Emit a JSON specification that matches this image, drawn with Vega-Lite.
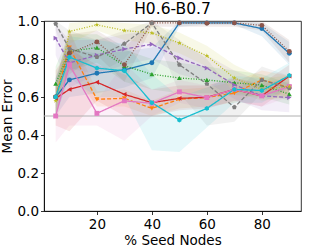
{
  "$schema": "https://vega.github.io/schema/vega-lite/v6.json",
  "width": 257,
  "height": 190,
  "autosize": "none",
  "padding": {"left": 44, "top": 21, "right": 8, "bottom": 38},
  "config": {
    "font": "DejaVu Sans",
    "view": {"stroke": "black", "strokeWidth": 0.8},
    "axis": {"grid": false, "labelOverlap": false, "domainColor": "black", "domainWidth": 0.8, "tickColor": "black", "tickWidth": 0.8, "tickSize": 3.5, "labelFont": "DejaVu Sans", "labelFontSize": 13.5, "labelColor": "black", "titleFont": "DejaVu Sans", "titleFontSize": 13.5, "titleFontWeight": "normal", "titleColor": "black"},
    "title": {"font": "DejaVu Sans", "fontSize": 15.5, "fontWeight": "normal", "color": "black", "offset": 4}
  },
  "title": {"text": "H0.6-B0.7", "dy": 7},
  "datasets": {
    "d": [
      {"s":"m1","x":5,"m":0.60,"lo":0.50,"hi":0.70},{"s":"m1","x":10,"m":0.69,"lo":0.60,"hi":0.85},{"s":"m1","x":20,"m":0.725,"lo":0.62,"hi":0.83},{"s":"m1","x":30,"m":0.743,"lo":0.65,"hi":0.84},{"s":"m1","x":40,"m":0.78,"lo":0.70,"hi":0.86},{"s":"m1","x":50,"m":0.99,"lo":0.97,"hi":1.0},{"s":"m1","x":60,"m":0.99,"lo":0.98,"hi":1.0},{"s":"m1","x":70,"m":0.99,"lo":0.98,"hi":1.0},{"s":"m1","x":80,"m":0.96,"lo":0.92,"hi":0.99},{"s":"m1","x":90,"m":0.83,"lo":0.77,"hi":0.89},
      {"s":"m2","x":5,"m":0.60,"lo":0.52,"hi":0.68},{"s":"m2","x":10,"m":0.86,"lo":0.75,"hi":0.95},{"s":"m2","x":20,"m":0.588,"lo":0.55,"hi":0.63},{"s":"m2","x":30,"m":0.593,"lo":0.55,"hi":0.64},{"s":"m2","x":40,"m":0.54,"lo":0.50,"hi":0.58},{"s":"m2","x":50,"m":0.588,"lo":0.54,"hi":0.64},{"s":"m2","x":60,"m":0.598,"lo":0.55,"hi":0.65},{"s":"m2","x":70,"m":0.62,"lo":0.57,"hi":0.68},{"s":"m2","x":80,"m":0.69,"lo":0.63,"hi":0.74},{"s":"m2","x":90,"m":0.65,"lo":0.60,"hi":0.71},
      {"s":"m3","x":5,"m":0.67,"lo":0.58,"hi":0.76},{"s":"m3","x":10,"m":0.84,"lo":0.74,"hi":0.93},{"s":"m3","x":20,"m":0.86,"lo":0.78,"hi":0.93},{"s":"m3","x":30,"m":0.764,"lo":0.68,"hi":0.85},{"s":"m3","x":40,"m":0.72,"lo":0.64,"hi":0.80},{"s":"m3","x":50,"m":0.70,"lo":0.62,"hi":0.78},{"s":"m3","x":60,"m":0.69,"lo":0.62,"hi":0.76},{"s":"m3","x":70,"m":0.675,"lo":0.61,"hi":0.74},{"s":"m3","x":80,"m":0.663,"lo":0.60,"hi":0.72},{"s":"m3","x":90,"m":0.615,"lo":0.56,"hi":0.67},
      {"s":"m4","x":5,"m":0.593,"lo":0.45,"hi":0.74},{"s":"m4","x":10,"m":0.64,"lo":0.42,"hi":0.85},{"s":"m4","x":20,"m":0.678,"lo":0.58,"hi":0.77},{"s":"m4","x":30,"m":0.614,"lo":0.50,"hi":0.72},{"s":"m4","x":40,"m":0.57,"lo":0.50,"hi":0.64},{"s":"m4","x":50,"m":0.593,"lo":0.53,"hi":0.66},{"s":"m4","x":60,"m":0.598,"lo":0.54,"hi":0.66},{"s":"m4","x":70,"m":0.64,"lo":0.58,"hi":0.70},{"s":"m4","x":80,"m":0.606,"lo":0.55,"hi":0.67},{"s":"m4","x":90,"m":0.71,"lo":0.65,"hi":0.77},
      {"s":"m5","x":5,"m":0.91,"lo":0.82,"hi":0.98},{"s":"m5","x":10,"m":0.78,"lo":0.65,"hi":0.90},{"s":"m5","x":20,"m":0.82,"lo":0.72,"hi":0.90},{"s":"m5","x":30,"m":0.852,"lo":0.77,"hi":0.93},{"s":"m5","x":40,"m":0.878,"lo":0.80,"hi":0.95},{"s":"m5","x":50,"m":0.805,"lo":0.72,"hi":0.88},{"s":"m5","x":60,"m":0.752,"lo":0.68,"hi":0.82},{"s":"m5","x":70,"m":0.664,"lo":0.59,"hi":0.74},{"s":"m5","x":80,"m":0.606,"lo":0.53,"hi":0.68},{"s":"m5","x":90,"m":0.597,"lo":0.52,"hi":0.68},
      {"s":"m6","x":5,"m":0.60,"lo":0.50,"hi":0.70},{"s":"m6","x":10,"m":0.83,"lo":0.72,"hi":0.93},{"s":"m6","x":20,"m":0.89,"lo":0.82,"hi":0.95},{"s":"m6","x":30,"m":0.77,"lo":0.68,"hi":0.86},{"s":"m6","x":40,"m":0.99,"lo":0.97,"hi":1.0},{"s":"m6","x":50,"m":0.99,"lo":0.97,"hi":1.0},{"s":"m6","x":60,"m":0.988,"lo":0.97,"hi":1.0},{"s":"m6","x":70,"m":0.99,"lo":0.97,"hi":1.0},{"s":"m6","x":80,"m":0.977,"lo":0.95,"hi":1.0},{"s":"m6","x":90,"m":0.84,"lo":0.78,"hi":0.90},
      {"s":"m7","x":5,"m":0.50,"lo":0.36,"hi":0.64},{"s":"m7","x":10,"m":0.77,"lo":0.45,"hi":0.95},{"s":"m7","x":20,"m":0.514,"lo":0.45,"hi":0.58},{"s":"m7","x":30,"m":0.58,"lo":0.37,"hi":0.78},{"s":"m7","x":40,"m":0.567,"lo":0.50,"hi":0.64},{"s":"m7","x":50,"m":0.627,"lo":0.57,"hi":0.69},{"s":"m7","x":60,"m":0.597,"lo":0.54,"hi":0.66},{"s":"m7","x":70,"m":0.64,"lo":0.58,"hi":0.70},{"s":"m7","x":80,"m":0.606,"lo":0.55,"hi":0.66},{"s":"m7","x":90,"m":0.655,"lo":0.60,"hi":0.71},
      {"s":"m8","x":5,"m":0.985,"lo":0.95,"hi":1.0},{"s":"m8","x":10,"m":0.854,"lo":0.75,"hi":0.95},{"s":"m8","x":20,"m":0.81,"lo":0.72,"hi":0.90},{"s":"m8","x":30,"m":0.88,"lo":0.80,"hi":0.95},{"s":"m8","x":40,"m":0.99,"lo":0.97,"hi":1.0},{"s":"m8","x":50,"m":0.77,"lo":0.62,"hi":0.90},{"s":"m8","x":60,"m":0.669,"lo":0.45,"hi":0.80},{"s":"m8","x":70,"m":0.546,"lo":0.47,"hi":0.62},{"s":"m8","x":80,"m":0.69,"lo":0.62,"hi":0.76},{"s":"m8","x":90,"m":0.646,"lo":0.58,"hi":0.71},
      {"s":"m9","x":5,"m":0.58,"lo":0.50,"hi":0.66},{"s":"m9","x":10,"m":0.945,"lo":0.88,"hi":0.99},{"s":"m9","x":20,"m":0.98,"lo":0.95,"hi":1.0},{"s":"m9","x":30,"m":0.95,"lo":0.90,"hi":0.99},{"s":"m9","x":40,"m":0.937,"lo":0.88,"hi":0.98},{"s":"m9","x":50,"m":0.884,"lo":0.83,"hi":0.94},{"s":"m9","x":60,"m":0.817,"lo":0.76,"hi":0.87},{"s":"m9","x":70,"m":0.70,"lo":0.63,"hi":0.77},{"s":"m9","x":80,"m":0.64,"lo":0.58,"hi":0.70},{"s":"m9","x":90,"m":0.655,"lo":0.60,"hi":0.71},
      {"s":"m10","x":5,"m":0.60,"lo":0.50,"hi":0.70},{"s":"m10","x":10,"m":0.81,"lo":0.70,"hi":0.92},{"s":"m10","x":20,"m":0.752,"lo":0.60,"hi":0.90},{"s":"m10","x":30,"m":0.738,"lo":0.60,"hi":0.88},{"s":"m10","x":40,"m":0.57,"lo":0.32,"hi":0.72},{"s":"m10","x":50,"m":0.479,"lo":0.31,"hi":0.60},{"s":"m10","x":60,"m":0.54,"lo":0.44,"hi":0.65},{"s":"m10","x":70,"m":0.64,"lo":0.57,"hi":0.71},{"s":"m10","x":80,"m":0.634,"lo":0.57,"hi":0.70},{"s":"m10","x":90,"m":0.713,"lo":0.65,"hi":0.78}
    ],
    "ref": [{"y": 0.5}]
  },
  "layer": [
    {
      "data": {"name": "d"},
      "mark": {"type": "area", "opacity": 0.11},
      "encoding": {
        "x": {"field": "x", "type": "quantitative", "scale": {"domain": [0.75, 94.25], "nice": false, "zero": false}, "axis": {"values": [20, 40, 60, 80], "labelOverlap": false, "title": "% Seed Nodes", "titlePadding": 2, "labelPadding": 3}},
        "y": {"field": "lo", "type": "quantitative", "scale": {"domain": [0, 1], "nice": false}, "axis": {"values": [0, 0.2, 0.4, 0.6, 0.8, 1.0], "labelOverlap": false, "labelFlush": false, "format": ".1f", "title": "Mean Error", "titlePadding": 3, "labelPadding": 2}},
        "y2": {"field": "hi"},
        "color": {"field": "s", "type": "nominal", "legend": null, "scale": {"domain": ["m1","m2","m3","m4","m5","m6","m7","m8","m9","m10"], "range": ["#1f77b4","#ff7f0e","#2ca02c","#d62728","#9467bd","#8c564b","#e377c2","#7f7f7f","#bcbd22","#17becf"]}}
      }
    },
    {
      "data": {"name": "ref"},
      "mark": {"type": "rule", "color": "#b0b0b0", "strokeWidth": 1},
      "encoding": {"y": {"field": "y", "type": "quantitative", "axis": {"values": [0, 0.2, 0.4, 0.6, 0.8, 1.0], "labelOverlap": false, "labelFlush": false, "format": ".1f", "title": "Mean Error", "titlePadding": 3, "labelPadding": 2}}}
    },
    {
      "data": {"name": "d"},
      "mark": {"type": "line", "strokeWidth": 1.3},
      "encoding": {
        "x": {"field": "x", "type": "quantitative", "axis": {"values": [20, 40, 60, 80], "labelOverlap": false, "title": "% Seed Nodes", "titlePadding": 2, "labelPadding": 3}},
        "y": {"field": "m", "type": "quantitative", "axis": {"values": [0, 0.2, 0.4, 0.6, 0.8, 1.0], "labelOverlap": false, "labelFlush": false, "format": ".1f", "title": "Mean Error", "titlePadding": 3, "labelPadding": 2}},
        "color": {"field": "s", "type": "nominal", "legend": null},
        "strokeDash": {"field": "s", "type": "nominal", "legend": null, "scale": {"domain": ["m1","m2","m3","m4","m5","m6","m7","m8","m9","m10"], "range": [[1,0],[4,2],[1,1.6],[1,0],[4,2],[1,1.6],[1,0],[4,2],[1,1.6],[1,0]]}}
      }
    },
    {
      "data": {"name": "d"},
      "mark": {"type": "point", "filled": true, "opacity": 1, "size": 24},
      "encoding": {
        "x": {"field": "x", "type": "quantitative", "axis": {"values": [20, 40, 60, 80], "labelOverlap": false, "title": "% Seed Nodes", "titlePadding": 2, "labelPadding": 3}},
        "y": {"field": "m", "type": "quantitative", "axis": {"values": [0, 0.2, 0.4, 0.6, 0.8, 1.0], "labelOverlap": false, "labelFlush": false, "format": ".1f", "title": "Mean Error", "titlePadding": 3, "labelPadding": 2}},
        "color": {"field": "s", "type": "nominal", "legend": null},
        "shape": {"field": "s", "type": "nominal", "legend": null, "scale": {"domain": ["m1","m2","m3","m4","m5","m6","m7","m8","m9","m10"], "range": ["circle","triangle-down","triangle-up","triangle-left","triangle-right","circle","square","M0,-1L0.951,-0.309L0.588,0.809L-0.588,0.809L-0.951,-0.309Z","M0,-1L0.235,-0.324L0.951,-0.309L0.38,0.124L0.588,0.809L0,0.4L-0.588,0.809L-0.38,0.124L-0.951,-0.309L-0.235,-0.324Z","M0,-1L0.866,-0.5L0.866,0.5L0,1L-0.866,0.5L-0.866,-0.5Z"]}}
      }
    }
  ]
}
